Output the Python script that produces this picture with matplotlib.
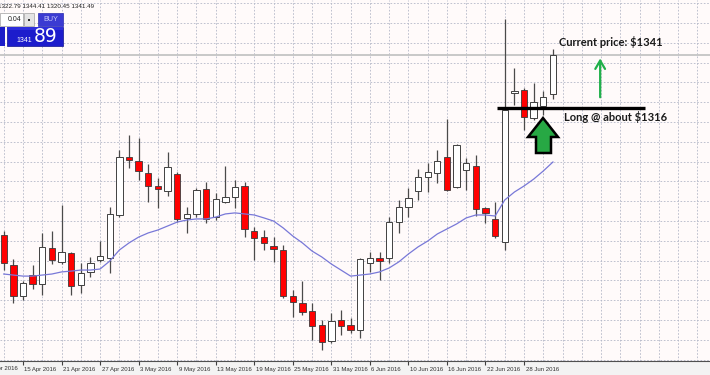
import matplotlib
matplotlib.use("Agg")
import matplotlib.pyplot as plt
import matplotlib.transforms as mtransforms
from matplotlib.patches import Rectangle, Polygon
import numpy as np

# ---------------- data (XAUUSD daily) ----------------
opens = [1255.2, 1240.8, 1226.0, 1236.0, 1231.7, 1249.0, 1242.3, 1246.6, 1231.2, 1237.5,
         1243.2, 1244.2, 1264.8, 1292.6, 1290.7, 1284.9, 1278.7, 1276.3, 1284.4, 1263.4,
         1265.3, 1277.3, 1263.8, 1271.0, 1273.4, 1278.7, 1257.1, 1254.2, 1249.9, 1248.0,
         1226.0, 1222.6, 1218.8, 1212.1, 1204.4, 1214.5, 1212.1, 1209.7, 1241.8, 1244.2,
         1244.2, 1261.4, 1268.6, 1276.3, 1283.0, 1284.9, 1292.6, 1278.2, 1286.4, 1288.3,
         1268.1, 1262.9, 1251.9, 1323.3, 1324.7, 1311.3, 1317.0, 1322.79]
highs = [1257.0, 1243.7, 1233.0, 1240.8, 1256.2, 1257.1, 1269.6, 1247.1, 1241.8, 1244.7,
         1252.3, 1268.6, 1296.0, 1303.1, 1301.7, 1289.2, 1282.5, 1295.0, 1285.4, 1268.6,
         1277.7, 1280.6, 1275.3, 1288.3, 1281.6, 1280.6, 1259.0, 1257.6, 1254.2, 1250.4,
         1228.8, 1233.2, 1222.6, 1214.5, 1217.8, 1219.3, 1215.4, 1244.2, 1247.1, 1247.1,
         1263.8, 1272.0, 1277.7, 1286.8, 1289.7, 1296.0, 1311.0, 1298.8, 1292.1, 1293.6,
         1268.6, 1271.0, 1358.7, 1335.3, 1325.7, 1328.1, 1324.2, 1344.41]
lows = [1238.4, 1222.6, 1224.0, 1229.3, 1226.4, 1241.3, 1241.3, 1226.4, 1227.4, 1235.1,
        1242.3, 1237.0, 1263.8, 1287.3, 1281.6, 1271.0, 1268.1, 1273.9, 1261.4, 1256.2,
        1263.8, 1261.0, 1262.4, 1270.5, 1268.1, 1254.2, 1243.2, 1248.0, 1242.3, 1225.0,
        1215.9, 1216.9, 1204.9, 1200.1, 1203.4, 1207.3, 1208.2, 1205.8, 1237.5, 1233.6,
        1241.8, 1256.2, 1263.8, 1272.0, 1275.8, 1280.1, 1276.3, 1277.7, 1276.8, 1264.3,
        1261.0, 1253.8, 1248.0, 1317.5, 1305.5, 1310.3, 1312.7, 1320.45]
closes = [1241.8, 1226.0, 1232.2, 1231.7, 1249.5, 1243.2, 1247.1, 1230.8, 1237.0, 1241.8,
          1245.1, 1265.3, 1292.6, 1291.2, 1285.9, 1278.7, 1277.3, 1287.8, 1262.9, 1265.3,
          1276.8, 1262.9, 1272.5, 1273.4, 1278.2, 1258.1, 1253.8, 1251.4, 1248.5, 1226.0,
          1223.1, 1218.3, 1211.6, 1203.9, 1214.0, 1211.6, 1209.7, 1243.7, 1244.2, 1242.7,
          1261.4, 1268.6, 1272.9, 1283.0, 1285.4, 1290.7, 1276.8, 1298.4, 1289.7, 1267.7,
          1265.8, 1254.7, 1315.1, 1324.2, 1311.8, 1319.0, 1321.4, 1341.49]
ma_values = [1236.5, 1236.0, 1235.5, 1235.5, 1236.0, 1236.5, 1237.5, 1237.9, 1238.4, 1238.4,
             1238.9, 1242.7, 1248.0, 1251.4, 1254.2, 1256.2, 1257.6, 1259.5, 1261.4, 1262.4,
             1262.9, 1262.9, 1263.8, 1265.3, 1265.8, 1265.3, 1264.8, 1263.4, 1261.9, 1258.6,
             1254.7, 1251.4, 1247.5, 1244.7, 1241.3, 1238.4, 1235.5, 1236.0, 1236.5, 1237.5,
             1239.4, 1242.3, 1246.1, 1249.5, 1252.3, 1255.7, 1258.1, 1260.5, 1263.4, 1264.8,
             1264.8, 1264.3, 1272.0, 1275.8, 1278.7, 1282.0, 1285.9, 1290.2]

date_tick_index = [-2, 2, 6, 10, 14, 18, 22, 26, 30, 34, 38, 42, 46, 50, 54]
date_tick_labels = ["11 Apr 2016", "15 Apr 2016", "21 Apr 2016", "27 Apr 2016", "3 May 2016",
                    "9 May 2016", "13 May 2016", "19 May 2016", "25 May 2016", "31 May 2016",
                    "6 Jun 2016", "10 Jun 2016", "16 Jun 2016", "22 Jun 2016", "28 Jun 2016"]

ohlc_header = "1322.79 1344.41 1320.45 1341.49"
current_price = 1341.49
entry_price = 1316
current_label = "Current price: $1341"
entry_label = "Long @ about $1316"

small_font = "Liberation Sans"

# ---------------- figure ----------------
W, H = 710, 375
fig = plt.figure(figsize=(W / 100, H / 100), dpi=100)
fig.patch.set_facecolor("#F3F3F3")
ax = fig.add_axes([0, 14 / H, 1, 361 / H])
ax.set_facecolor("#FFFAFA")

ax.set_xlim(-0.387, 73.30)
ax.set_ylim(1194.8, 1367.86)

# grid
grid_col = "#B4B8C8"
for gx in range(0, 74, 2):
    ax.axvline(gx, color=grid_col, lw=0.6, ls=(0, (2, 2)), zorder=0)
grid_top, grid_step = 1366.28, 9.492
for gy in np.arange(grid_top, 1190, -grid_step):
    ax.axhline(gy, color=grid_col, lw=0.6, ls=(0, (2, 2)), zorder=0)

# current price line
ax.axhline(current_price, color="#C4C4C4", lw=1.3, zorder=1)

# candles
x = np.arange(len(opens))
o = np.array(opens); c = np.array(closes); h = np.array(highs); l = np.array(lows)
ax.vlines(x, l, h, color="#4A4A4A", lw=0.9, zorder=2)
up = c >= o
bw = 0.66
ax.bar(x[up], (c - o)[up], bottom=o[up], width=bw, color="white",
       edgecolor="#404040", linewidth=0.7, zorder=3)
ax.bar(x[~up], (o - c)[~up], bottom=c[~up], width=bw, color="#FF0000",
       edgecolor="#3A3A3A", linewidth=0.6, zorder=3)

# moving average
ax.plot(x, ma_values, color="#7878D8", lw=0.9, zorder=4)

# entry line and annotations
ax.hlines(entry_price, 51.2, 66.6, color="black", lw=2.4, zorder=6)
ax.text(58.1, 1311.8, entry_label, fontsize=8, fontweight="bold", family="Lato",
        color="#1A1A1A", va="center", ha="left", zorder=7)
ax.text(57.6, 1347.7, current_label, fontsize=8, fontweight="bold", family="Lato",
        color="#1A1A1A", va="center", ha="left", zorder=7)
ax.annotate("", xy=(61.9, 1341.2), xytext=(61.9, 1319.9),
            arrowprops=dict(arrowstyle="->,head_length=0.6,head_width=0.35",
                            color="#20B04A", lw=1.6), zorder=7)

# big block arrow (pixel overlay)
ov = fig.add_axes([0, 0, 1, 1], facecolor="none")
ov.set_xlim(0, W); ov.set_ylim(H, 0); ov.axis("off")
arrow_pts = [(543, 118), (558, 137), (551, 137), (551, 153), (536, 153), (536, 137), (528, 137)]
ov.add_patch(Polygon(arrow_pts, closed=True, facecolor="#27A844", edgecolor="black",
                     lw=1.8, joinstyle="miter", zorder=8))

# top-left trading panel
ov.text(-1.5, 6.5, ohlc_header, fontsize=4.5, family=small_font, color="#202020",
        va="center", ha="left")
ov.add_patch(Rectangle((0, 13), 23, 13, facecolor="white", edgecolor="#A0A0A0", lw=0.5))
ov.text(21, 19.5, "0.04", fontsize=5, family=small_font, color="#202020", ha="right", va="center")
ov.add_patch(Rectangle((24, 13), 10, 13, facecolor="#E4E4E4", edgecolor="#A0A0A0", lw=0.5))
ov.add_patch(Rectangle((27.5, 18.5), 2.5, 2, facecolor="#303030", edgecolor="none"))
ov.add_patch(Rectangle((38, 13), 25, 13, facecolor="#3B3BD2", edgecolor="#2A2AB0", lw=0.5))
ov.text(50.5, 19.5, "BUY", fontsize=5.2, family=small_font, color="#C8C8FA", ha="center", va="center")
ov.add_patch(Rectangle((0, 27), 5, 18.5, facecolor="#1C1CC8", edgecolor="none"))
ov.add_patch(Rectangle((7, 27), 56, 18.5, facecolor="#1C1CCC", edgecolor="#101090", lw=0.5))
ov.add_patch(Rectangle((7, 27), 56, 3, facecolor="#2E2EDC", edgecolor="none"))
ov.text(24, 41, "1341", fontsize=5, family=small_font, color="white", ha="center", va="center")
ov.text(46, 36.5, "89", fontsize=13.5, color="white", ha="center", va="center")

# x axis styling
for s in ["top", "right", "left"]:
    ax.spines[s].set_visible(False)
ax.spines["bottom"].set_color("#505050")
ax.spines["bottom"].set_linewidth(0.8)
ax.set_yticks([])
ax.set_xticks(date_tick_index[1:])
ax.set_xticklabels(date_tick_labels[1:], fontsize=4.3, family=small_font,
                   color="#303030", ha="left")
ax.tick_params(axis="x", length=3, width=0.8, color="#404040", pad=1.5)
offset = mtransforms.ScaledTranslation(1.5 / 100, 0, fig.dpi_scale_trans)
for lab in ax.get_xticklabels():
    lab.set_transform(lab.get_transform() + offset)
trans = mtransforms.blended_transform_factory(ax.transData, ax.transAxes)
ax.text(date_tick_index[0], -0.014, date_tick_labels[0], transform=trans + offset,
        fontsize=4.3, family=small_font, color="#303030", ha="left", va="top", clip_on=False)

fig.savefig("out.png", dpi=100, facecolor=fig.get_facecolor())
